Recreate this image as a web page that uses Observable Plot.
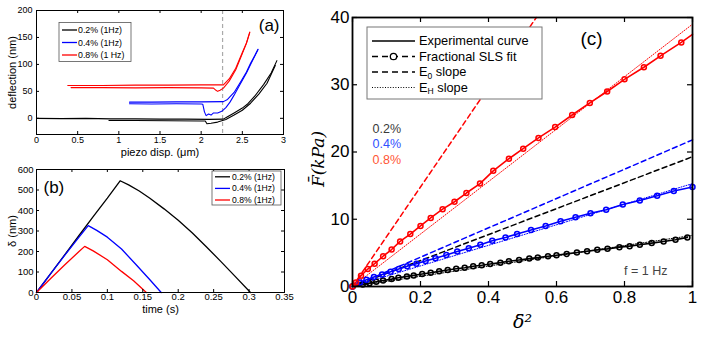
<!DOCTYPE html>
<html><head><meta charset="utf-8">
<script src="https://cdn.jsdelivr.net/npm/d3@7"></script>
<script src="https://cdn.jsdelivr.net/npm/@observablehq/plot@0.6"></script>
<style>
body{margin:0;background:#fff;}
#fig{position:relative;width:704px;height:338px;font-family:"Liberation Sans",Arial,sans-serif;overflow:hidden;}
</style></head><body><div id="fig"></div>
<script>
// ---------- Panel (a): deflection vs piezo displacement ----------
const aXTicks = [0, 0.5, 1, 1.5, 2, 2.5, 3];
const aYTicks = [0, 50, 100, 150, 200];
const aLabels = ["0.2% (1Hz)", "0.4% (1Hz)", "0.8% (1 Hz)"];
const seriesColors = ["#000000", "#0000ff", "#ff0000"];
const aContact = [2.26];
// approach branches
const aBlkApX = [0, 0.3, 0.6, 0.9, 1.2, 1.5, 1.8, 2.1, 2.27, 2.32, 2.4, 2.5, 2.56, 2.65, 2.76, 2.85, 2.92];
const aBlkApY = [0, -0.5, 0, -1, -1, -1.5, -1.5, -2, -1.5, 3, 10, 19, 26, 41, 63, 84, 107];
const aBluApX = [1.13, 1.4, 1.7, 2.0, 2.27, 2.32, 2.4, 2.48, 2.55, 2.6, 2.65, 2.69];
const aBluApY = [30, 30, 30.5, 30.5, 31, 35, 48, 68, 86, 102, 116, 128];
const aRedApX = [0.38, 0.8, 1.2, 1.6, 2.0, 2.27, 2.34, 2.42, 2.5, 2.55, 2.59];
const aRedApY = [61, 61, 61.5, 61.5, 62, 62, 73, 93, 122, 140, 160];
// retract branches
const aBlkReX = [0.88, 1.2, 1.6, 2.0, 2.05, 2.07, 2.12, 2.2, 2.3, 2.4, 2.5, 2.6, 2.7, 2.8, 2.9];
const aBlkReY = [-4, -4, -4.5, -5, -5, -10, -9, -7, -2, 6, 15, 28, 45, 65, 98];
const aBluReX = [1.13, 1.4, 1.7, 2.0, 2.02, 2.04, 2.06, 2.09, 2.12, 2.15, 2.2, 2.25, 2.3, 2.35, 2.4, 2.48, 2.55, 2.6, 2.65, 2.69];
const aBluReY = [27, 26.5, 27, 26.5, 26, 12, 5, 8, 6, 10, 10, 13, 20, 30, 43, 65, 84, 100, 115, 127];
const aRedReX = [0.42, 0.8, 1.2, 1.6, 2.0, 2.15, 2.18, 2.2, 2.23, 2.27, 2.34, 2.42, 2.5, 2.55, 2.59];
const aRedReY = [57, 57, 56.5, 57, 56.5, 56, 52, 50, 52, 56, 69, 90, 120, 139, 159];

// ---------- Panel (b): indentation vs time ----------
const bXTicks = [0, 0.05, 0.1, 0.15, 0.2, 0.25, 0.3, 0.35];
const bYTicks = [0, 100, 200, 300, 400, 500, 600];
const bLabels = ["0.2% (1Hz)", "0.4% (1Hz)", "0.8% (1Hz)"];
const bBlkT = [0, 0.02, 0.04, 0.06, 0.08, 0.1, 0.118, 0.13, 0.145, 0.16, 0.18, 0.2, 0.22, 0.24, 0.26, 0.28, 0.302];
const bBlkD = [0, 92, 185, 278, 370, 460, 545, 525, 495, 460, 408, 352, 290, 222, 152, 80, 0];
const bBluT = [0, 0.02, 0.04, 0.06, 0.073, 0.085, 0.1, 0.12, 0.14, 0.16, 0.176];
const bBluD = [0, 92, 182, 270, 326, 303, 270, 212, 138, 62, 0];
const bRedT = [0, 0.02, 0.04, 0.06, 0.068, 0.08, 0.1, 0.12, 0.137, 0.155];
const bRedD = [0, 68, 135, 200, 225, 203, 160, 103, 57, 0];

// ---------- Panel (c): normalized force vs normalized indentation^2 ----------
const cXTicks = [0, 0.2, 0.4, 0.6, 0.8, 1];
const cYTicks = [0, 10, 20, 30, 40];
const cStrainLabels = ["0.2%", "0.4%", "0.8%"];
const cStrainColors = ["#3a3a3a", "#3050ff", "#ff5535"];
const cLegendLabels = ["Experimental curve", "Fractional SLS fit", "E_0 slope", "E_H slope"];
const cBlkX = [0, 0.03, 0.05, 0.07, 0.09, 0.115, 0.135, 0.16, 0.18, 0.205, 0.23, 0.255, 0.28, 0.305, 0.33, 0.355, 0.38, 0.405, 0.435, 0.46, 0.49, 0.52, 0.545, 0.575, 0.6, 0.63, 0.66, 0.69, 0.72, 0.75, 0.785, 0.815, 0.845, 0.88, 0.915, 0.95, 0.985];
const cBlkY = [0, 0.3, 0.5, 0.7, 0.9, 1.1, 1.3, 1.5, 1.65, 1.85, 2.05, 2.25, 2.45, 2.65, 2.8, 3.0, 3.15, 3.35, 3.55, 3.75, 3.95, 4.15, 4.3, 4.5, 4.65, 4.85, 5.05, 5.25, 5.45, 5.6, 5.85, 6.0, 6.2, 6.45, 6.7, 6.95, 7.3];
const cBluX = [0, 0.022, 0.041, 0.063, 0.087, 0.112, 0.136, 0.161, 0.188, 0.215, 0.244, 0.276, 0.308, 0.342, 0.376, 0.411, 0.45, 0.484, 0.525, 0.568, 0.612, 0.656, 0.7, 0.746, 0.795, 0.845, 0.896, 0.945, 1.0];
const cBluY = [0, 0.6, 1.0, 1.4, 1.8, 2.2, 2.6, 3.0, 3.4, 3.8, 4.2, 4.7, 5.2, 5.7, 6.2, 6.8, 7.3, 7.8, 8.4, 9.0, 9.7, 10.3, 10.9, 11.4, 12.2, 12.8, 13.5, 14.2, 14.8];
const cRedX = [0, 0.01, 0.025, 0.045, 0.065, 0.09, 0.115, 0.14, 0.17, 0.2, 0.23, 0.265, 0.3, 0.335, 0.375, 0.414, 0.46, 0.502, 0.547, 0.596, 0.646, 0.698, 0.749, 0.8, 0.857, 0.906, 0.967];
const cRedY = [0, 0.6, 1.6, 2.6, 3.4, 4.5, 5.5, 6.7, 7.8, 9.0, 10.2, 11.5, 12.6, 13.9, 15.3, 17.2, 19.0, 20.5, 22.1, 23.7, 25.5, 27.3, 29.0, 30.8, 32.6, 34.3, 36.3];
const cRedEndX = [1.0];
const cRedEndY = [37.5];
const cE0Slopes = [19.3, 21.8, 74];
const cEHSlopes = [7.6, 15.3, 39];

// ---------- helpers ----------
const fig = document.getElementById("fig");
function place(el, left, top) {
  el.style.position = "absolute"; el.style.left = left + "px"; el.style.top = top + "px";
  el.style.background = "transparent"; el.style.maxWidth = "none";
  fig.appendChild(el);
}
const pts = (xs, ys) => xs.map((x, i) => ({x, y: ys[i]}));
function boxMarks({xTicks, yTicks, fw, fh, len, fontSize, xPad, yPad, tickW}) {
  const fmt = d => String(d);
  return [
    Plot.ruleX(xTicks, {x: d => d, insetTop: fh - len, strokeWidth: tickW}),
    Plot.ruleX(xTicks, {x: d => d, insetBottom: fh - len, strokeWidth: tickW}),
    Plot.ruleY(yTicks, {y: d => d, insetRight: fw - len, strokeWidth: tickW}),
    Plot.ruleY(yTicks, {y: d => d, insetLeft: fw - len, strokeWidth: tickW}),
    Plot.axisX({ticks: xTicks, tickSize: 0, tickPadding: xPad, fontSize, tickFormat: fmt, label: null}),
    Plot.axisY({ticks: yTicks, tickSize: 0, tickPadding: yPad, fontSize, tickFormat: fmt, label: null})
  ];
}
function simpleLegend(labels, colors, o) {
  return (index, scales, values, dim) => {
    const ml = dim ? dim.marginLeft : o.ml, mt = dim ? dim.marginTop : o.mt;
    const g = d3.create("svg:g").attr("transform", `translate(${ml},${mt})`);
    g.append("rect").attr("x", o.x).attr("y", o.y).attr("width", o.w).attr("height", o.h)
      .attr("fill", "white").attr("stroke", "#555").attr("stroke-width", 0.8);
    labels.forEach((lab, i) => {
      const yy = o.row0 + i * o.dy;
      g.append("line").attr("x1", o.l1).attr("x2", o.l2).attr("y1", yy).attr("y2", yy)
        .attr("stroke", colors[i]).attr("stroke-width", 1.3);
      g.append("text").attr("x", o.tx).attr("y", yy).attr("dy", "0.35em").attr("text-anchor", "start")
        .attr("font-size", o.fs).attr("fill", "black").text(lab);
    });
    return g.node();
  };
}

// ---------- Panel (a) ----------
{
  const W = 295, H = 165, ml = 36, mr = 12, mt = 10, mb = 31;
  const fw = W - ml - mr, fh = H - mt - mb;
  const ap = [pts(aBlkApX, aBlkApY), pts(aBluApX, aBluApY), pts(aRedApX, aRedApY)];
  const re = [pts(aBlkReX, aBlkReY), pts(aBluReX, aBluReY), pts(aRedReX, aRedReY)];
  const p = Plot.plot({
    width: W, height: H, marginLeft: ml, marginRight: mr, marginTop: mt, marginBottom: mb,
    style: {fontFamily: "Liberation Sans, Arial, sans-serif", background: "transparent", overflow: "visible"},
    x: {domain: [0, 3]}, y: {domain: [-30, 200]},
    marks: [
      Plot.ruleX(aContact, {x: d => d, stroke: "#aaaaaa", strokeWidth: 1.2, strokeDasharray: "4,3"}),
      ...[0, 1, 2].flatMap(i => [
        Plot.line(re[i], {x: "x", y: "y", stroke: seriesColors[i], strokeWidth: 1.1}),
        Plot.line(ap[i], {x: "x", y: "y", stroke: seriesColors[i], strokeWidth: 1.1})
      ]),
      ...boxMarks({xTicks: aXTicks, yTicks: aYTicks, fw, fh, len: 3, fontSize: 9, xPad: 2, yPad: 4, tickW: 1}),
      Plot.frame({stroke: "black", strokeWidth: 1}),
      Plot.text(["(a)"], {text: d => d, frameAnchor: "top-right", dx: -4, dy: 15, textAnchor: "end", lineAnchor: "middle", fontSize: 17}),
      Plot.text(["deflection (nm)"], {text: d => d, frameAnchor: "left", dx: -24, rotate: -90, textAnchor: "middle", lineAnchor: "middle", fontSize: 11}),
      Plot.text(["piezo disp. (μm)"], {text: d => d, frameAnchor: "bottom", dy: 17.5, textAnchor: "middle", lineAnchor: "middle", fontSize: 11}),
      simpleLegend(aLabels, seriesColors, {ml, mt, x: 23, y: 12.5, w: 72, h: 39, row0: 20, dy: 12.5, l1: 26, l2: 41, tx: 42, fs: 8.8})
    ]
  });
  place(p, 0, 0);
}

// ---------- Panel (b) ----------
{
  const W = 295, H = 178, ml = 36, mr = 11, mt = 9, mb = 46;
  const fw = W - ml - mr, fh = H - mt - mb;
  const curves = [pts(bBlkT, bBlkD), pts(bBluT, bBluD), pts(bRedT, bRedD)];
  const p = Plot.plot({
    width: W, height: H, marginLeft: ml, marginRight: mr, marginTop: mt, marginBottom: mb,
    style: {fontFamily: "Liberation Sans, Arial, sans-serif", background: "transparent", overflow: "visible"},
    x: {domain: [0, 0.35]}, y: {domain: [0, 600]},
    marks: [
      ...[0, 1, 2].map(i => Plot.line(curves[i], {x: "x", y: "y", stroke: seriesColors[i], strokeWidth: 1.3})),
      ...boxMarks({xTicks: bXTicks, yTicks: bYTicks, fw, fh, len: 3, fontSize: 9.5, xPad: 1, yPad: 3, tickW: 1}),
      Plot.frame({stroke: "black", strokeWidth: 1}),
      Plot.text(["(b)"], {text: d => d, frameAnchor: "top-left", dx: 7, dy: 18, textAnchor: "start", lineAnchor: "middle", fontSize: 17}),
      Plot.text(["δ (nm)"], {text: d => d, frameAnchor: "left", dx: -24, rotate: -90, textAnchor: "middle", lineAnchor: "middle", fontSize: 11}),
      Plot.text(["time (s)"], {text: d => d, frameAnchor: "bottom", dy: 17, textAnchor: "middle", lineAnchor: "middle", fontSize: 11}),
      simpleLegend(bLabels, seriesColors, {ml, mt, x: 176, y: 2, w: 69, h: 34, row0: 7.8, dy: 11.6, l1: 179, l2: 194, tx: 196, fs: 8.6})
    ]
  });
  place(p, 0, 160);
}

// ---------- Panel (c) ----------
{
  const W = 404, H = 338, ml = 52, mr = 12, mt = 17, mb = 52;
  const fw = W - ml - mr, fh = H - mt - mb;
  const yMax = 40;
  const slopeLine = s => { const xe = Math.min(1, yMax / s); return [{x: 0, y: 0}, {x: xe, y: s * xe}]; };
  const exp = [pts(cBlkX, cBlkY), pts(cBluX, cBluY), pts(cRedX, cRedY).concat(pts(cRedEndX, cRedEndY))];
  const dots = [pts(cBlkX, cBlkY), pts(cBluX, cBluY), pts(cRedX, cRedY)];
  const legendC = (index, scales, values, dim) => {
    const lx = dim ? dim.marginLeft : ml, ly = dim ? dim.marginTop : mt;
    const g = d3.create("svg:g").attr("transform", `translate(${lx},${ly})`);
    g.append("rect").attr("x", 15).attr("y", 10).attr("width", 175).attr("height", 72)
      .attr("fill", "white").attr("stroke", "#777").attr("stroke-width", 1);
    const rows = [24, 39.5, 55, 70.5];
    const styles = [
      {dash: null, w: 1.5}, {dash: "6,4", w: 1.3}, {dash: "6,4", w: 1.3}, {dash: "1,1.6", w: 1}
    ];
    cLegendLabels.forEach((lab, i) => {
      const yy = rows[i];
      const ln = g.append("line").attr("x1", 20).attr("x2", 63).attr("y1", yy).attr("y2", yy)
        .attr("stroke", "black").attr("stroke-width", styles[i].w);
      if (styles[i].dash) ln.attr("stroke-dasharray", styles[i].dash);
      if (i === 1) g.append("circle").attr("cx", 41.5).attr("cy", yy).attr("r", 3.2)
        .attr("fill", "white").attr("stroke", "black").attr("stroke-width", 1.3);
      const t = g.append("text").attr("x", 67).attr("y", yy).attr("dy", "0.35em").attr("text-anchor", "start")
        .attr("font-size", 12.8).attr("fill", "black");
      if (lab.includes("_")) {
        const [a, b] = lab.split("_");
        t.append("tspan").text(a);
        t.append("tspan").attr("font-size", 8.5).attr("dy", 2.5).text(b[0]);
        t.append("tspan").attr("dy", -2.5).text(b.slice(1));
      } else t.text(lab);
    });
    return g.node();
  };
  const p = Plot.plot({
    width: W, height: H, marginLeft: ml, marginRight: mr, marginTop: mt, marginBottom: mb,
    style: {fontFamily: "Liberation Sans, Arial, sans-serif", background: "transparent", overflow: "visible"},
    x: {domain: [0, 1]}, y: {domain: [0, yMax]},
    marks: [
      ...[0, 1, 2].map(i => Plot.line(slopeLine(cEHSlopes[i]), {x: "x", y: "y", stroke: seriesColors[i], strokeWidth: 1, strokeDasharray: "1,1.6"})),
      ...[0, 1, 2].map(i => Plot.line(slopeLine(cE0Slopes[i]), {x: "x", y: "y", stroke: seriesColors[i], strokeWidth: 1.5, strokeDasharray: "5,3.5"})),
      ...[0, 1, 2].map(i => Plot.line(exp[i], {x: "x", y: "y", stroke: seriesColors[i], strokeWidth: 1.6})),
      ...[0, 1, 2].map(i => Plot.dot(dots[i], {x: "x", y: "y", stroke: seriesColors[i], r: 2.5, strokeWidth: 1.5, fill: "none"})),
      ...boxMarks({xTicks: cXTicks, yTicks: cYTicks, fw, fh, len: 5, fontSize: 17, xPad: 4, yPad: 3, tickW: 1.2}),
      Plot.frame({stroke: "black", strokeWidth: 1.8}),
      ...cStrainLabels.map((lab, i) => Plot.text([lab], {text: d => d, frameAnchor: "top-left", dx: 20, dy: 111 + i * 15.5, textAnchor: "start", lineAnchor: "middle", fontSize: 12.5, fill: cStrainColors[i]})),
      Plot.text(["f = 1 Hz"], {text: d => d, frameAnchor: "bottom-right", dx: -25, dy: -16, textAnchor: "end", lineAnchor: "middle", fontSize: 12.5, fill: "#444"}),
      Plot.text(["(c)"], {text: d => d, frameAnchor: "top-left", dx: 239, dy: 21, textAnchor: "middle", lineAnchor: "middle", fontSize: 19}),
      Plot.text(["F\u0304(kPa)"], {text: d => d, frameAnchor: "left", dx: -34, dy: 7, rotate: -90, textAnchor: "middle", lineAnchor: "middle", fontSize: 17, fontStyle: "italic", fontFamily: "DejaVu Serif, serif"}),
      Plot.text(["\u03B4\u0304\u00B2"], {text: d => d, frameAnchor: "bottom", dy: 35, textAnchor: "middle", lineAnchor: "middle", fontSize: 19, fontStyle: "italic", fontFamily: "DejaVu Serif, serif"}),
      legendC
    ]
  });
  place(p, 300, 0);
}
</script></body></html>
